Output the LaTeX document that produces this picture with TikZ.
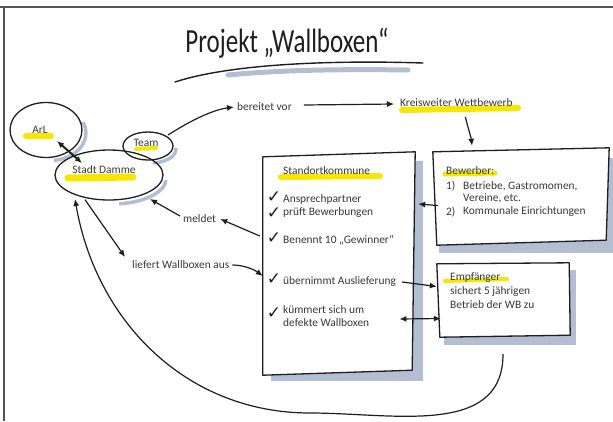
\documentclass[tikz,border=0pt]{standalone}
\usepackage{fontspec}
\setmainfont{Carlito}
\newfontfamily\symfont{DejaVu Sans}
\usetikzlibrary{shapes.geometric,arrows.meta,calc}
\definecolor{ink}{HTML}{1E1E1E}
\definecolor{txtc}{HTML}{383838}
\definecolor{hly}{HTML}{F6E600}
\definecolor{shadowc}{HTML}{B4BED2}
\definecolor{framec}{HTML}{555555}
\pgfdeclarelayer{bg}
\pgfsetlayers{bg,main}
\tikzset{
 ln/.style={line width=1.2pt, draw=ink},
 arr/.style={ln, -{Latex[length=7pt,width=6pt]}},
 dbl/.style={ln, {Latex[length=7pt,width=6pt]}-{Latex[length=7pt,width=6pt]}},
 txt/.style={inner sep=0pt, anchor=west, text=txtc, font=\fontsize{11.4}{12.5}\selectfont},
 hl/.style={line width=6pt, draw=hly, line cap=round},
 ell/.style={ellipse, draw=ink, line width=1.3pt, inner sep=0pt},
 chk/.style={inner sep=0pt, text=ink, font=\symfont\fontsize{17}{17}\selectfont},
 boxarea/.style={rectangle, inner sep=0pt},
 boxline/.style={draw=ink, line width=1.3pt, fill=white, line join=round},
 shadowline/.style={ellipse, draw=shadowc, line width=3.5pt, inner sep=0pt},
}
\begin{document}
\begin{tikzpicture}[x=1pt,y=-1pt]
\useasboundingbox (0,0) rectangle (613,421);
% frame
\draw[framec, line width=1.2pt] (0,7) -- (613,7);
\draw[framec, line width=1.2pt] (4,7) -- (4,421);

% title
\node[inner sep=0pt, text=ink, font=\fontsize{25}{25}\selectfont] (title) at (287,43) {\scalebox{1}[1.35]{Projekt „Wallboxen“}};
\draw[shadowc, line width=5pt, line cap=round] (228,75) .. controls (280,70) and (340,69) .. (408,70);
\draw[ink, line width=1.4pt, line cap=round] (175,82) .. controls (230,64) and (330,60) .. (423,63);

% area nodes (geometry)
\node[ell, minimum width=72, minimum height=55] (arl) at (46,130) {};
\node[ell, minimum width=108, minimum height=50] (damme) at (109,175) {};
\node[ell, minimum width=50, minimum height=28] (team) at (148,146) {};
\node[boxarea, minimum width=152, minimum height=220] (sk) at (339,263) {};
\node[boxarea, minimum width=176, minimum height=95] (bew) at (521,197.5) {};
\node[boxarea, minimum width=132, minimum height=75] (emp) at (503,300.5) {};

\begin{pgfonlayer}{bg}
% ellipse shadows
\begin{scope}
\clip ([shift={(8,-8)}]arl.center) rectangle ([shift={(50,35)}]arl.center);
\node[shadowline, minimum width=72, minimum height=55] (arlshd) at ([shift={(4,3)}]arl.center) {};
\end{scope}
\begin{scope}
\clip ([shift={(10,5)}]damme.center) rectangle ([shift={(70,40)}]damme.center);
\node[shadowline, minimum width=108, minimum height=50] (dammeshd) at ([shift={(3,4)}]damme.center) {};
\end{scope}
\begin{scope}
\clip ([shift={(5,2)}]team.center) rectangle ([shift={(40,25)}]team.center);
\node[shadowline, minimum width=50, minimum height=28] (teamshd) at ([shift={(3,3)}]team.center) {};
\end{scope}
% box shadows
\fill[shadowc] ([shift={(8,8)}]sk.north west) rectangle ([shift={(8,8)}]sk.south east);
\fill[shadowc] ([shift={(6,8)}]bew.north west) rectangle ([shift={(6,8)}]bew.south east);
\fill[shadowc] ([shift={(7,7)}]emp.north west) rectangle ([shift={(7,7)}]emp.south east);
\end{pgfonlayer}

% boxes (hand drawn outlines)
\draw[boxline] ([shift={(0,4)}]sk.north west) -- ([shift={(0,-1)}]sk.north east) -- ([shift={(-3,-3)}]sk.south east) -- ([shift={(0,2)}]sk.south west) -- cycle;
\draw[boxline] ([shift={(0,2)}]bew.north west) -- ([shift={(0,-2)}]bew.north east) -- ([shift={(-3,-5)}]bew.south east) -- ([shift={(4,0)}]bew.south west) -- cycle;
\draw[boxline] ([shift={(0,1)}]emp.north west) -- (emp.north east) -- ([shift={(1,-3)}]emp.south east) -- ([shift={(3,-1)}]emp.south west) -- cycle;

% highlights
\draw[hl] (26,136) -- (51,136);
\draw[hl, line width=7pt] (68,178) -- (133,177);
\draw[hl, line width=4pt] (136,149) -- (156,148);
\draw[hl] (402,110) -- (518,108);
\draw[hl] (281,177) -- (380,176);
\draw[hl, line width=5pt] (445,174) -- (495,173);
\draw[hl, line width=4pt] (445,281) -- (507,279);

% texts
\node[txt, anchor=center] (arlt) at (40,130) {ArL};
\node[txt, anchor=center] (dammet) at (104,170) {Stadt Damme};
\node[txt, anchor=center] (teamt) at (146,143) {Team};
\node[txt] (bereit) at (237,107) {bereitet vor};
\node[txt] (kreis) at (400,103) {Kreisweiter Wettbewerb};
\node[txt] (meldet) at (183,219) {meldet};
\node[txt] (liefert) at (132,265) {liefert Wallboxen aus};

\node[txt] (skt) at (283,171) {Standortkommune};
\node[chk] (c1) at (274,197) {✓};
\node[chk] (c2) at (274,213) {✓};
\node[chk] (c3) at (274,238) {✓};
\node[chk] (c4) at (274,279) {✓};
\node[chk] (c5) at (274,313) {✓};
\node[txt, align=left] (ap) at (283,206) {Ansprechpartner\\prüft Bewerbungen};
\node[txt] (ben) at (283,240) {Benennt 10 „Gewinner“};
\node[txt] (ueb) at (283,282) {übernimmt Auslieferung};
\node[txt, align=left, font=\fontsize{11.4}{13.5}\selectfont] (kue) at (283,316) {kümmert sich um\\defekte Wallboxen};

\node[txt] (bewt) at (446,171) {Bewerber:};
\node[txt] (b1) at (446,186) {1)};
\node[txt, align=left] (b1t) at (463,192.25) {Betriebe, Gastromomen,\\Vereine, etc.};
\node[txt] (b2) at (446,212) {2)};
\node[txt] (b2t) at (463,212) {Kommunale Einrichtungen};

\node[txt, align=left, font=\fontsize{11.4}{14}\selectfont] (empt) at (450,291) {Empfänger\\sichert 5 jährigen\\Betrieb der WB zu};

% connectors
\draw[dbl, line width=2pt] ([shift={(11,11)}]arl.center) -- ([shift={(-27,-12)}]damme.center);
\draw[arr] ([shift={(20,-11)}]team.center) .. controls +(22,-14) and +(-22,3) .. ([xshift=-3]bereit.west);
\draw[arr] ([shift={(12,-2)}]bereit.east) -- ([shift={(-6,1)}]kreis.west);
\draw[arr] ([shift={(9,14)}]kreis.center) .. controls +(2,9) and +(-1,-9) .. ([shift={(-49,-4)}]bew.north);
\draw[arr] ([shift={(5,8)}]bew.west) -- ([shift={(3,-59)}]sk.east);
\draw[arr] ([shift={(-3,-27)}]sk.west) -- ([xshift=4]meldet.east);
\draw[arr] ([shift={(-3,-3)}]meldet.west) -- ([shift={(41,24)}]damme.center);
\draw[arr] ([shift={(-24,-1)}]damme.south) -- ([shift={(-7,-8)}]liefert.west);
\draw[arr] ([xshift=3]liefert.east) .. controls +(12,0) and +(-8,-6) .. ([shift={(0,13)}]sk.west);
\draw[arr] ([xshift=6]ueb.east) -- ([shift={(0,-14)}]emp.west);
\draw[dbl] ([shift={(30,3)}]kue.east) -- ([shift={(4,18)}]emp.west);
\coordinate (botc) at (310,413);
\draw[arr] ([yshift=-16]emp.south) .. controls +(0,83) and +(83,0) .. (botc) .. controls +(-124,0) and +(21,122) .. ([shift={(-34,24)}]damme.center);
\end{tikzpicture}
\end{document}
